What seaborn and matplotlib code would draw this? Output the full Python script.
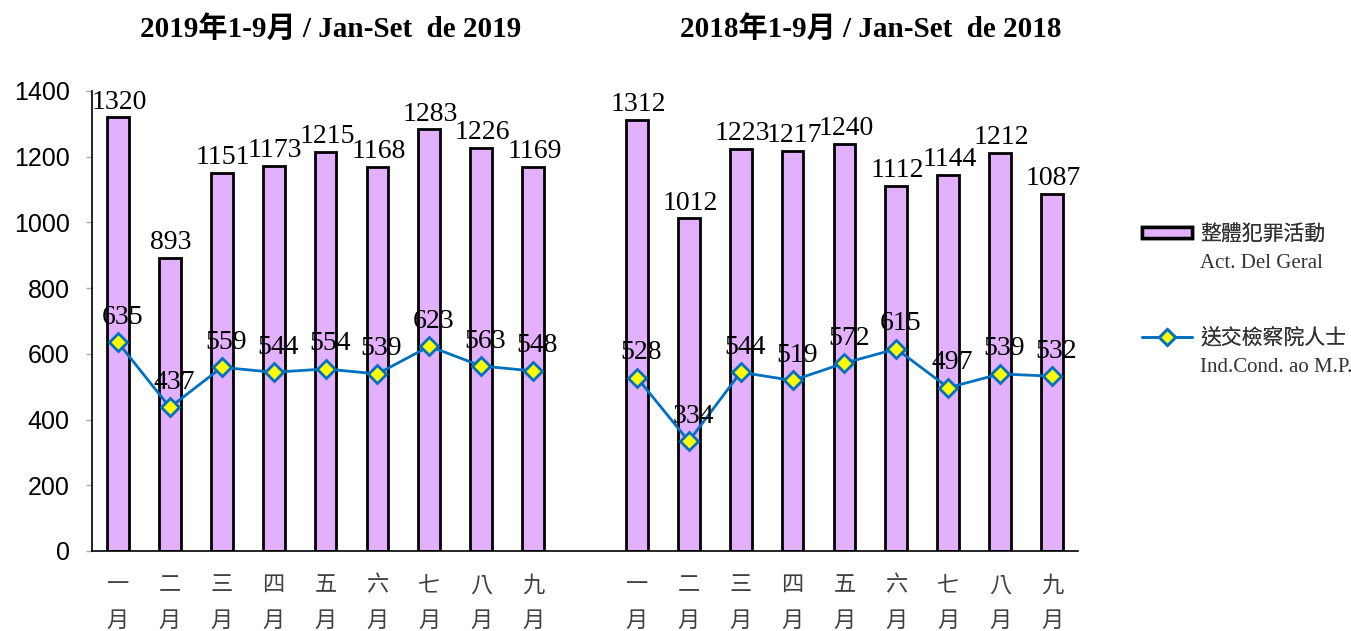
import matplotlib
matplotlib.use("Agg")
import matplotlib.pyplot as plt
import seaborn as sns
import pandas as pd
import numpy as np
from matplotlib.patches import Patch
from matplotlib.lines import Line2D

months = ["一", "二", "三", "四", "五", "六", "七", "八", "九"]
crime_2019 = [1320, 893, 1151, 1173, 1215, 1168, 1283, 1226, 1169]
ind_2019 = [635, 437, 559, 544, 554, 539, 623, 563, 548]
crime_2018 = [1312, 1012, 1223, 1217, 1240, 1112, 1144, 1212, 1087]
ind_2018 = [528, 334, 544, 519, 572, 615, 497, 539, 532]
title_2019 = "2019年1-9月 / Jan-Set  de 2019"
title_2018 = "2018年1-9月 / Jan-Set  de 2018"
legend_bar = ["整體犯罪活動", "Act. Del Geral"]
legend_line = ["送交檢察院人士", "Ind.Cond. ao M.P."]

sns.set_theme(style="white")
plt.rcParams['font.family'] = ['Liberation Serif', 'Noto Sans CJK TC']
plt.rcParams['text.color'] = 'black'

BAR_COLOR = "#E2B0FC"
LINE_COLOR = "#0070C0"
SERIF = ['Liberation Serif', 'Noto Sans CJK TC']

pos_2019 = list(range(9))
pos_2018 = list(range(10, 19))
df_bar = pd.DataFrame({
    "pos": pos_2019 + pos_2018,
    "value": crime_2019 + crime_2018,
})

W, H = 1351, 631
fig = plt.figure(figsize=(13.51, 6.31), dpi=100)
ax = fig.add_axes([92/W, 1-551/H, (1078-92)/W, (551-91)/H])

sns.barplot(data=df_bar, x="pos", y="value", order=list(range(19)),
            color=BAR_COLOR, saturation=1, width=0.42, edgecolor="black",
            linewidth=2, ax=ax)

for xs, ys in [(pos_2019, ind_2019), (pos_2018, ind_2018)]:
    sns.lineplot(x=xs, y=ys, color=LINE_COLOR, linewidth=2, marker="D",
                 markersize=9, markerfacecolor="#FFFF00",
                 markeredgecolor=LINE_COLOR, markeredgewidth=2, ax=ax)

for x, v in zip(df_bar["pos"], df_bar["value"]):
    ax.annotate(f"{v}", (x, v), xytext=(1, 2), textcoords="offset points",
                ha="center", va="bottom", fontsize=20, family=SERIF,
                color="black")
for xs, ys in [(pos_2019, ind_2019), (pos_2018, ind_2018)]:
    for x, v in zip(xs, ys):
        ax.annotate(f"{v}", (x, v), xytext=(3, 9), textcoords="offset points",
                    ha="center", va="bottom", fontsize=20, family=SERIF,
                    color="black")

ax.set_xlim(-0.5, 18.5)
ax.set_ylim(0, 1400)
ax.set_yticks(range(0, 1401, 200))
ax.set_yticklabels([str(v) for v in range(0, 1401, 200)],
                   family=['Liberation Sans'], fontsize=18, color="black")
ax.set_xticks(pos_2019 + pos_2018)
ax.set_xticklabels([m + "\n月" for m in months] * 2, family=['Noto Sans CJK TC'],
                   fontsize=16, color="#404040", linespacing=1.7)
ax.set_xticks(np.arange(-0.5, 18.6, 1), minor=True)
ax.tick_params(axis="x", which="major", length=0, pad=16)
ax.tick_params(axis="x", which="minor", length=5, direction="in",
               color="#808080", width=1)
ax.tick_params(axis="y", which="major", length=4, direction="out",
               color="#aaaaaa", width=1, pad=12, left=True)
ax.set_xlabel("")
ax.set_ylabel("")
for s in ["top", "right"]:
    ax.spines[s].set_visible(False)
for s in ["left", "bottom"]:
    ax.spines[s].set_color("black")
    ax.spines[s].set_linewidth(1.2)

fig.text(331/W, 1-29/H, title_2019, ha="center", va="center",
         fontsize=21, fontweight="bold", family=SERIF, color="black")
fig.text(871/W, 1-29/H, title_2018, ha="center", va="center",
         fontsize=21, fontweight="bold", family=SERIF, color="black")

h_bar = Patch(facecolor=BAR_COLOR, edgecolor="black", linewidth=2.5)
h_line = Line2D([0], [0], color=LINE_COLOR, linewidth=2, marker="D",
                markersize=8, markerfacecolor="#FFFF00",
                markeredgecolor=LINE_COLOR, markeredgewidth=2)
for h, lab, yc in [(h_bar, legend_bar, 235), (h_line, legend_line, 339)]:
    lg = fig.legend([h], [lab[0]], loc="center left",
                    bbox_to_anchor=(1142/W, 1-yc/H), frameon=False,
                    prop={"family": SERIF, "size": 15}, borderpad=0,
                    borderaxespad=0, handlelength=2.4, handleheight=0.5,
                    handletextpad=0.38)
    for t in lg.get_texts():
        t.set_color("#333333")
    fig.add_artist(lg)
    fig.text(1200/W, 1-(yc+29)/H, lab[1], ha="left", va="center",
             fontsize=15, family=SERIF, color="#333333")

fig.savefig("out.png", dpi=100)
